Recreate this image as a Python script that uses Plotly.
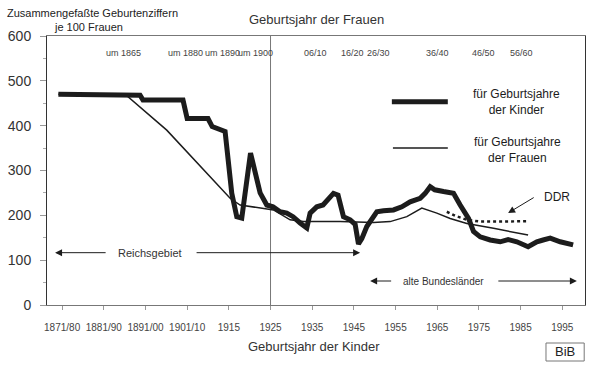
import plotly.graph_objects as go

# ---- data ----
x_tick_labels = ["1871/80", "1881/90", "1891/00", "1901/10", "1915", "1925", "1935",
                 "1945", "1955", "1965", "1975", "1985", "1995"]
x_tick_years = [1875, 1885, 1895, 1905, 1915, 1925, 1935, 1945, 1955, 1965, 1975, 1985, 1995]

y_ticks = [0, 100, 200, 300, 400, 500, 600]

# Zusammengefasste Geburtenziffer fuer Geburtsjahre der Kinder
kinder_years = [1874.1, 1881.0, 1893.7, 1894.4, 1904.0, 1905.0, 1910.0, 1911.0, 1912.4, 1914.1,
                1915.7, 1916.9, 1918.1, 1920.2, 1922.5, 1924.1, 1925.6, 1927.3, 1928.9, 1930.4,
                1932.1, 1933.7, 1934.5, 1936.1, 1937.6, 1940.1, 1941.2, 1942.5, 1944.1, 1945.3,
                1946.1, 1946.9, 1948.1, 1950.5, 1952.1, 1954.5, 1956.5, 1958.5, 1960.9, 1962.1,
                1963.3, 1964.4, 1966.5, 1968.9, 1970.5, 1972.5, 1973.7, 1975.3, 1977.7, 1980.1,
                1982.0, 1984.1, 1986.8, 1988.9, 1990.4, 1992.1, 1994.5, 1997.6]
kinder_values = [470, 470, 468, 457, 457, 416, 416, 398, 392, 387,
                 249, 197, 194, 339, 250, 223, 219, 208, 205, 197,
                 183, 172, 205, 219, 223, 249, 245, 197, 190, 180,
                 136, 148, 175, 208, 210, 212, 219, 230, 238, 249,
                 264, 257, 253, 249, 223, 193, 164, 152, 145, 141,
                 146, 141, 130, 141, 145, 149, 141, 134]

# ... fuer Geburtsjahre der Frauen
frauen_years = [1874.1, 1890.1, 1900.1, 1915.3, 1917.7, 1925.7, 1929.7, 1932.9, 1941.7,
                1949.7, 1953.7, 1957.7, 1961.3, 1964.9, 1968.1, 1972.1, 1978.5, 1986.8]
frauen_values = [470, 470, 390, 238, 223, 212, 190, 186, 186,
                 184, 186, 197, 216, 205, 193, 182, 171, 156]

# DDR
ddr_years = [1967.3, 1969.3, 1972.1, 1975.3, 1980.1, 1986.5]
ddr_values = [208, 199, 190, 186, 186, 187]

# Geburtsjahr der Frauen (top labels)
frauen_cohort_labels = ["um 1865", "um 1880", "um 1890", "um 1900", "06/10", "16/20",
                        "26/30", "36/40", "46/50", "56/60"]
frauen_cohort_years = [1889.8, 1904.5, 1913.4, 1921.3, 1935.7, 1944.6, 1950.8, 1965.0,
                       1976.0, 1985.3]

FONT = "Liberation Sans, Arial, sans-serif"
INK = "#1c1c1c"

fig = go.Figure()
fig.add_trace(go.Scatter(x=frauen_years, y=frauen_values, mode="lines",
                         line=dict(color=INK, width=1.5), showlegend=False))
fig.add_trace(go.Scatter(x=ddr_years, y=ddr_values, mode="lines",
                         line=dict(color=INK, width=2.5, dash="dot"), showlegend=False))
fig.add_trace(go.Scatter(x=kinder_years, y=kinder_values, mode="lines",
                         line=dict(color=INK, width=5, shape="linear"), showlegend=False))

C = dict(xanchor="center", yanchor="middle")
ann = []
# top cohort labels
for lab, yr in zip(frauen_cohort_labels, frauen_cohort_years):
    ann.append(dict(x=yr, y=562, xref="x", yref="y", text=lab, showarrow=False, **C,
                    font=dict(size=9, color="#444", family=FONT)))

# Reichsgebiet arrow
ann.append(dict(x=1896.1, y=116.7, xref="x", yref="y", text="Reichsgebiet", showarrow=False, **C,
                font=dict(size=11, color="#333", family=FONT)))
ann.append(dict(x=1873.3, y=116.7, ax=1885.8, ay=116.7, xref="x", yref="y", axref="x", ayref="y",
                text="", showarrow=True, arrowhead=2, arrowsize=1.4, arrowwidth=1, arrowcolor=INK))
ann.append(dict(x=1946.5, y=116.7, ax=1906.9, ay=116.7, xref="x", yref="y", axref="x", ayref="y",
                text="", showarrow=True, arrowhead=2, arrowsize=1.4, arrowwidth=1, arrowcolor=INK))
# alte Bundeslaender arrow
ann.append(dict(x=1966.6, y=53.5, xref="x", yref="y", text="alte Bundesländer", showarrow=False, **C,
                font=dict(size=10, color="#333", family=FONT)))
ann.append(dict(x=1948.9, y=53.5, ax=1954.3, ay=53.5, xref="x", yref="y", axref="x", ayref="y",
                text="", showarrow=True, arrowhead=2, arrowsize=1.4, arrowwidth=1, arrowcolor=INK))
ann.append(dict(x=1998.5, y=53.5, ax=1979.3, ay=53.5, xref="x", yref="y", axref="x", ayref="y",
                text="", showarrow=True, arrowhead=2, arrowsize=1.4, arrowwidth=1, arrowcolor=INK))
# DDR
ann.append(dict(x=1993.7, y=241, xref="x", yref="y", text="DDR", showarrow=False, **C,
                font=dict(size=12, color=INK, family=FONT)))
ann.append(dict(x=1982.0, y=205.2, ax=1988.5, ay=241.6, xref="x", yref="y", axref="x", ayref="y",
                text="", showarrow=True, arrowhead=2, arrowsize=1.4, arrowwidth=1, arrowcolor=INK))

# legend texts
ann.append(dict(x=0.872, y=0.753, xref="paper", yref="paper", text="für Geburtsjahre<br>der Kinder",
                showarrow=False, align="center", **C, font=dict(size=12, color=INK, family=FONT)))
ann.append(dict(x=0.875, y=0.576, xref="paper", yref="paper", text="für Geburtsjahre<br>der Frauen",
                showarrow=False, align="center", **C, font=dict(size=12, color=INK, family=FONT)))

# titles
ann.append(dict(x=-0.078, y=1.0855, xref="paper", yref="paper", xanchor="left", yanchor="middle",
                text="Zusammengefaßte Geburtenziffern", showarrow=False,
                font=dict(size=11, color="#222", family=FONT)))
ann.append(dict(x=0.078, y=1.0335, xref="paper", yref="paper", text="je 100 Frauen",
                showarrow=False, **C, font=dict(size=11, color="#222", family=FONT)))
ann.append(dict(x=0.5, y=1.0595, xref="paper", yref="paper", text="Geburtsjahr der Frauen",
                showarrow=False, **C, font=dict(size=13, color="#333", family=FONT)))
ann.append(dict(x=0.496, y=-0.156, xref="paper", yref="paper", text="Geburtsjahr der Kinder",
                showarrow=False, **C, font=dict(size=13, color="#333", family=FONT)))
ann.append(dict(x=0.963, y=-0.1745, xref="paper", yref="paper", text="BiB", showarrow=False, **C,
                font=dict(size=13, color="#222", family=FONT)))

shapes = [
    dict(type="line", xref="x", yref="paper", x0=1925, x1=1925, y0=0, y1=1,
         line=dict(color="#777", width=1), layer="below"),
    dict(type="line", xref="paper", yref="paper", x0=0.641, x1=0.745, y0=0.756, y1=0.756,
         line=dict(color=INK, width=5)),
    dict(type="line", xref="paper", yref="paper", x0=0.643, x1=0.745, y0=0.584, y1=0.584,
         line=dict(color=INK, width=1.5)),
    # BiB box
    dict(type="rect", xref="paper", yref="paper", x0=0.9275, x1=0.9985, y0=-0.2082, y1=-0.1413,
         line=dict(color="#777", width=1), fillcolor="rgba(0,0,0,0)"),
]

fig.update_layout(
    template="none",
    width=599, height=374,
    autosize=False,
    margin=dict(l=47, r=14, t=36, b=69, pad=0),
    paper_bgcolor="white", plot_bgcolor="white",
    font=dict(family=FONT, color="#333"),
    annotations=ann, shapes=shapes,
    showlegend=False,
    xaxis=dict(range=[1871.37, 2000.45], tickvals=x_tick_years, ticktext=x_tick_labels,
               showgrid=False, zeroline=False, showline=True, linecolor="#777", linewidth=1,
               mirror=True, ticks="outside", ticklen=4, tickcolor="#999", automargin=False,
               ticklabelstandoff=9, tickfont=dict(size=10, color="#444", family=FONT)),
    yaxis=dict(range=[0, 600], tickvals=y_ticks, showgrid=False, zeroline=False,
               showline=True, linecolor="#333", linewidth=1, mirror=True, automargin=False,
               ticks="outside", ticklen=6, tickcolor="#999", ticklabelstandoff=6,
               tickfont=dict(size=14, color="#333", family=FONT),
               minor=dict(dtick=50, ticks="outside", ticklen=3, tickcolor="#aaa")),
)

fig.write_html("out.html", config={"displayModeBar": False},
               post_script="document.body.style.margin='0';")
